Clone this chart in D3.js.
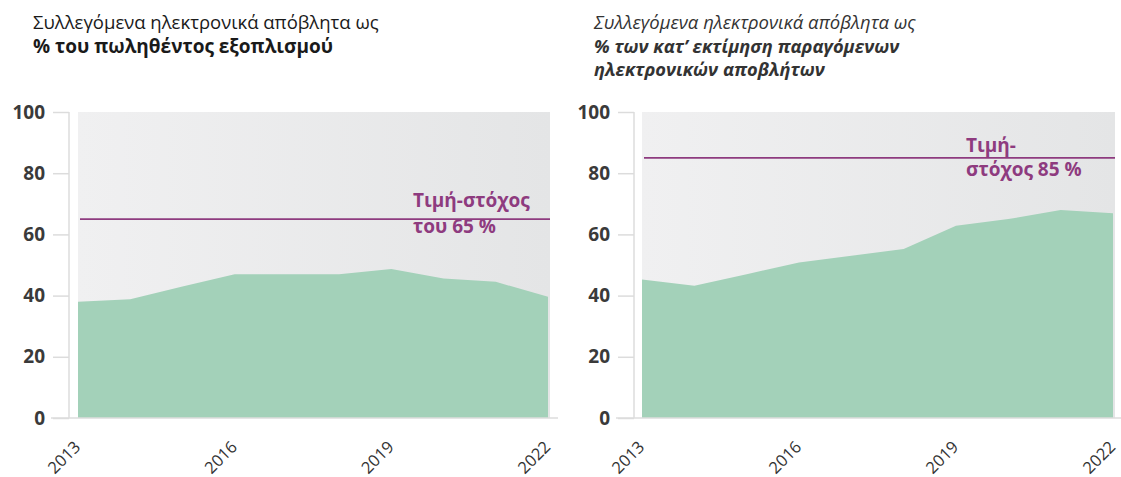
<!DOCTYPE html>
<html>
<head>
<meta charset="utf-8">
<script src="https://cdn.jsdelivr.net/npm/d3@7"></script>
<style>
  body { margin: 0; background: #fff; }
  svg { display: block; font-family: "Open Sans", "Noto Sans", sans-serif; }
</style>
</head>
<body>
<div id="chart-container"></div>
<script>
// Dữ liệu
const years = [2013, 2014, 2015, 2016, 2017, 2018, 2019, 2020, 2021, 2022];
const yearTicks = [2013, 2016, 2019, 2022];
const yTicks = [0, 20, 40, 60, 80, 100];
const soldValues = [38, 38.8, 43, 47, 47, 47, 48.7, 45.6, 44.5, 39.6];
const generatedValues = [45.3, 43.2, 47, 50.8, 53, 55.2, 62.8, 65, 68, 66.9];
const targets = [65, 85];
const titleLines = [
  ["Συλλεγόμενα ηλεκτρονικά απόβλητα ως", "% του πωληθέντος εξοπλισμού"],
  ["Συλλεγόμενα ηλεκτρονικά απόβλητα ως", "% των κατ’ εκτίμηση παραγόμενων", "ηλεκτρονικών αποβλήτων"]
];
const targetLabels = [["Τιμή-στόχος", "του 65 %"], ["Τιμή-", "στόχος 85 %"]];

const W = 1121, H = 477;
const svg = d3.select("#chart-container").append("svg")
  .attr("width", W).attr("height", H);

const defs = svg.append("defs");
const grad = defs.append("linearGradient").attr("id", "bg").attr("x1", 0).attr("x2", 1).attr("y1", 0).attr("y2", 0);
grad.append("stop").attr("offset", "0%").attr("stop-color", "#f0f0f1");
grad.append("stop").attr("offset", "100%").attr("stop-color", "#e4e5e6");

const panels = [
  { x0: 78, x1: 548, axisX: 69, titleX: 33, italic: false, values: soldValues, titleSize: [18.5, 19],
    target: targets[0], label: targetLabels[0], labelX: 413, labelY: [207, 233], titles: titleLines[0] },
  { x0: 642, x1: 1113, axisX: 634, titleX: 594, italic: true, values: generatedValues, titleSize: [18.5, 18.3],
    target: targets[1], label: targetLabels[1], labelX: 966, labelY: [152, 176], titles: titleLines[1] }
];

const yScale = d3.scaleLinear().domain([0, 100]).range([418, 112]);

panels.forEach((p) => {
  const g = svg.append("g");

  // Tiêu đề
  p.titles.forEach((t, i) => {
    g.append("text")
      .attr("x", p.titleX)
      .attr("y", 29 + i * 23.5)
      .style("font-size", `${i === 0 ? p.titleSize[0] : p.titleSize[1]}px`)
      .style("font-style", p.italic ? "italic" : "normal")
      .style("font-weight", i === 0 ? "normal" : "bold")
      .style("fill", p.italic ? "#333" : "#1a1a1a")
      .text(t);
  });

  const xScale = d3.scaleLinear().domain([2013, 2022]).range([p.x0, p.x1]);

  // Nền
  g.append("rect")
    .attr("x", p.x0).attr("y", yScale(100))
    .attr("width", p.x1 - p.x0 + 2).attr("height", yScale(0) - yScale(100))
    .attr("fill", "url(#bg)");

  // Trục y
  const yAxis = g.append("g")
    .attr("transform", `translate(${p.axisX},0)`)
    .call(d3.axisLeft(yScale).tickValues(yTicks).tickSize(16).tickPadding(8));
  yAxis.select(".domain").attr("stroke", "#dcdcdc").attr("stroke-width", 1.5)
    .attr("d", `M0,${yScale(100)}V${yScale(0)}`);
  yAxis.selectAll(".tick line").attr("stroke", "#dcdcdc").attr("stroke-width", 1.5);
  yAxis.selectAll(".tick text")
    .style("font-size", "19px").style("font-weight", "bold")
    .style("fill", "#3a3a3a").style("font-family", "'Open Sans', sans-serif");

  // Vùng
  const area = d3.area()
    .x((d, i) => xScale(years[i]))
    .y0(yScale(0))
    .y1((d) => yScale(d));
  g.append("path").datum(p.values).attr("d", area).attr("fill", "#a3d1b9");

  // Trục x
  const xAxis = g.append("g")
    .attr("transform", `translate(0,${yScale(0)})`)
    .call(d3.axisBottom(xScale).tickValues(yearTicks).tickFormat(d3.format("d")).tickSize(0));
  xAxis.select(".domain").attr("stroke", "#dcdcdc").attr("stroke-width", 1.5)
    .attr("d", `M${p.axisX - 18},0H${p.x1 + 10}`);
  xAxis.selectAll(".tick text")
    .style("font-size", "16.5px").style("fill", "#333")
    .style("font-family", "'Open Sans', sans-serif")
    .style("text-anchor", "end")
    .attr("x", 0).attr("y", 0).attr("dy", 0)
    .attr("transform", "translate(3,30) rotate(-45)");

  // Đường mục tiêu
  g.append("line")
    .attr("x1", p.x0 + 2).attr("x2", p.x1 + 2)
    .attr("y1", yScale(p.target)).attr("y2", yScale(p.target))
    .attr("stroke", "#8e3b7f").attr("stroke-width", 1.8);

  p.label.forEach((t, i) => {
    g.append("text")
      .attr("x", p.labelX).attr("y", p.labelY[i])
      .style("font-size", "19px").style("font-weight", "bold")
      .style("fill", "#8e3b7f")
      .text(t);
  });
});
</script>
</body>
</html>
